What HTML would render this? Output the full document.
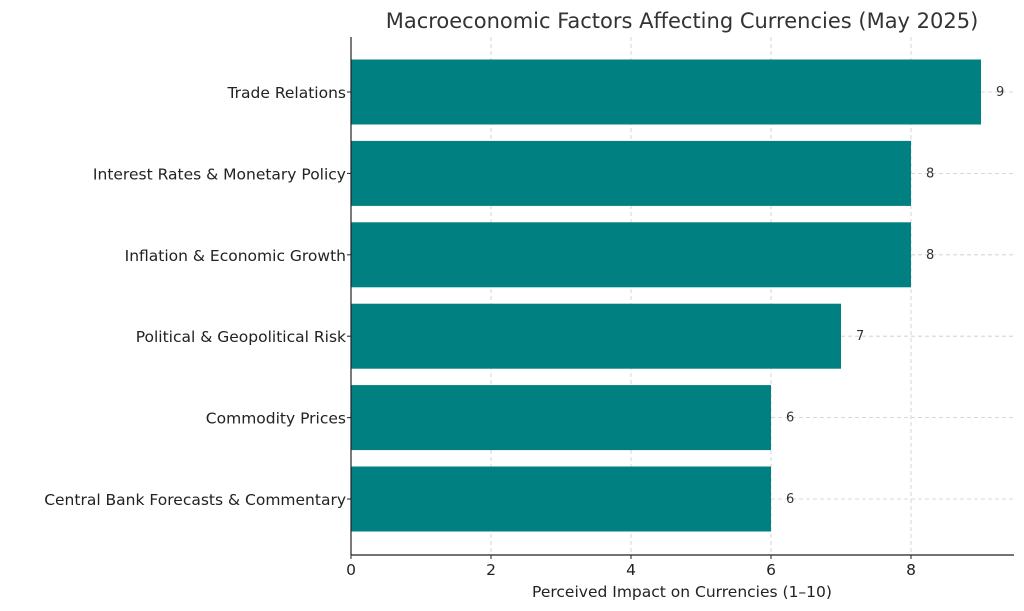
<!DOCTYPE html>
<html><head><meta charset="utf-8"><style>
body{margin:0;background:#fff;}
svg{display:block;font-family:"DejaVu Sans","Liberation Sans",sans-serif;}
</style></head><body>
<svg id="chart" width="1024" height="611" viewBox="0 0 1024 611">
<text x="682" y="28" font-size="21" fill="#333" text-anchor="middle">Macroeconomic Factors Affecting Currencies (May 2025)</text>
<g id="grid"></g><g id="bars"></g><g id="axes"></g>
<text x="682" y="597" font-size="15.5" fill="#222" text-anchor="middle">Perceived Impact on Currencies (1–10)</text>
</svg>
<script>
const categories=["Trade Relations","Interest Rates & Monetary Policy","Inflation & Economic Growth","Political & Geopolitical Risk","Commodity Prices","Central Bank Forecasts & Commentary"];
const values=[9,8,8,7,6,6];
const xTicks=[0,2,4,6,8];
const L=351,R=1014,T=37,B=555;
const xs=v=>L+v*70;
const step=81.4, y0=92;
const ys=i=>y0+i*step;
const NS="http://www.w3.org/2000/svg";
function mk(t,a,p){const e=document.createElementNS(NS,t);for(const k in a)e.setAttribute(k,a[k]);p.appendChild(e);return e;}
const grid=document.getElementById('grid'),bars=document.getElementById('bars'),axes=document.getElementById('axes');
xTicks.concat([]).forEach(v=>{const g=mk('line',{x1:xs(v),x2:xs(v),y1:T,y2:B,stroke:'#ccc','stroke-dasharray':'4,3','stroke-width':0.8},grid);


const t=mk('text',{x:xs(v),y:B+20,'font-size':15.5,fill:'#222','text-anchor':'middle'},axes);t.textContent=v;


mk('line',{x1:xs(v),x2:xs(v),y1:B,y2:B+4,stroke:'#222'},axes);});
categories.forEach((c,i)=>{const y=ys(i);
const gl=mk('line',{x1:L,x2:R,y1:y,y2:y,stroke:'#ccc','stroke-dasharray':'4,3','stroke-width':0.8},grid);


const r=mk('rect',{x:L,y:y-32.5,width:xs(values[i])-L,height:65,fill:'#008080'},bars);


const vt=mk('text',{x:xs(values[i])+15,y:y+4,'font-size':13,fill:'#333'},bars);vt.textContent=values[i];


const lt=mk('text',{x:L-5,y:y+6,'font-size':15.5,fill:'#222','text-anchor':'end'},axes);lt.textContent=c;


mk('line',{x1:L-4,x2:L,y1:y,y2:y,stroke:'#222'},axes);});
mk('line',{x1:L,x2:L,y1:T,y2:B,stroke:'#222','stroke-width':1.2},axes);
mk('line',{x1:L,x2:R,y1:B,y2:B,stroke:'#222','stroke-width':1.2},axes);
</script>
</body></html>
